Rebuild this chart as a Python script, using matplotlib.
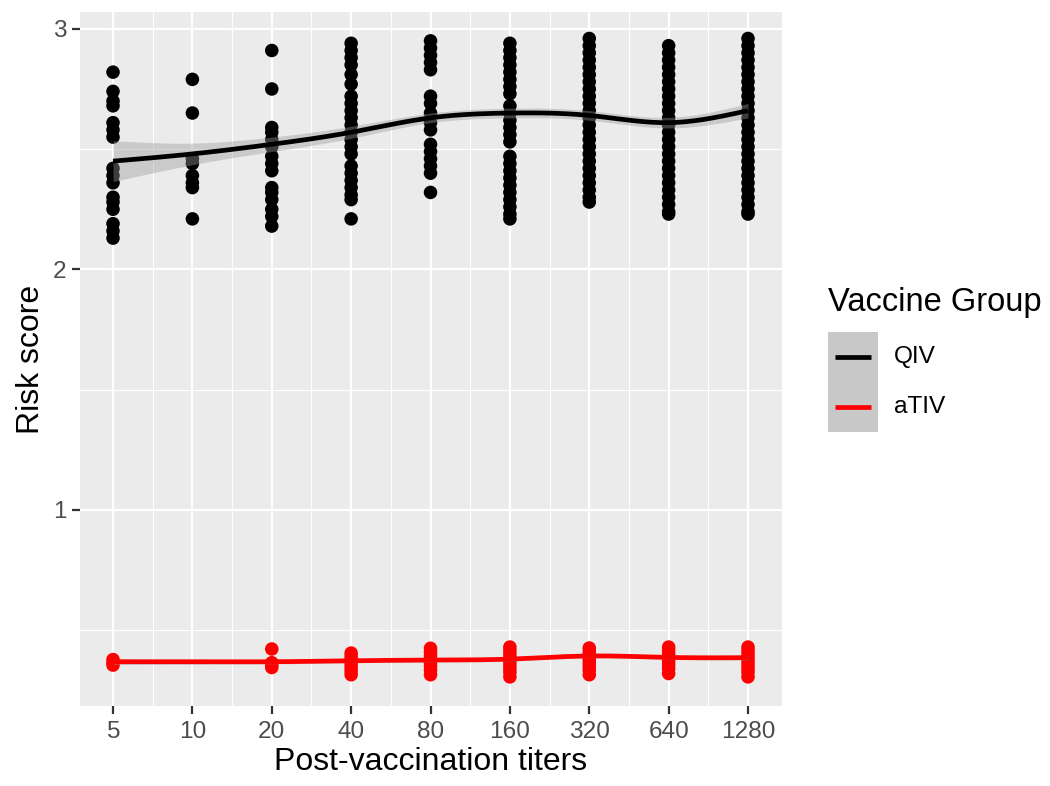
import numpy as np
import matplotlib
matplotlib.use("Agg")
import matplotlib.pyplot as plt
from matplotlib.lines import Line2D
from matplotlib.patches import Rectangle
from matplotlib.ticker import FixedLocator, NullFormatter

plt.rcParams['font.family'] = ['Liberation Sans', 'DejaVu Sans']

# ---------------- data ----------------
titers = [5, 10, 20, 40, 80, 160, 320, 640, 1280]
tick_labels = ["5", "10", "20", "40", "80", "160", "320", "640", "1280"]

qiv_points = {
    5: [2.82, 2.74, 2.70, 2.68, 2.61, 2.58, 2.55, 2.42, 2.39, 2.36, 2.30, 2.28, 2.25, 2.19, 2.16, 2.13],
    10: [2.79, 2.65, 2.46, 2.44, 2.39, 2.36, 2.34, 2.21],
    20: [2.91, 2.75, 2.59, 2.57, 2.54, 2.51, 2.47, 2.44, 2.41, 2.34, 2.32, 2.29, 2.25, 2.22, 2.18],
    40: [2.94, 2.91, 2.88, 2.85, 2.81, 2.77, 2.72, 2.69, 2.66, 2.63, 2.60, 2.57, 2.54, 2.51,
         2.48, 2.43, 2.40, 2.37, 2.34, 2.31, 2.29, 2.21],
    80: [2.95, 2.92, 2.89, 2.86, 2.83, 2.72, 2.69, 2.65, 2.61, 2.58, 2.52, 2.49, 2.46, 2.43, 2.40, 2.32],
    160: [2.94, 2.91, 2.88, 2.85, 2.82, 2.79, 2.76, 2.73, 2.68, 2.65, 2.62, 2.59, 2.56, 2.53,
          2.47, 2.44, 2.41, 2.38, 2.35, 2.32, 2.29, 2.26, 2.23, 2.21],
    320: [2.96, 2.93, 2.90, 2.87, 2.84, 2.81, 2.78, 2.75, 2.72, 2.69, 2.66, 2.63, 2.60, 2.57,
          2.54, 2.51, 2.48, 2.45, 2.42, 2.39, 2.36, 2.33, 2.30, 2.28],
    640: [2.93, 2.90, 2.87, 2.84, 2.81, 2.78, 2.75, 2.72, 2.69, 2.66, 2.63, 2.60, 2.57, 2.54,
          2.51, 2.48, 2.45, 2.42, 2.39, 2.36, 2.33, 2.30, 2.27, 2.24, 2.23],
    1280: [2.96, 2.93, 2.90, 2.87, 2.84, 2.81, 2.78, 2.75, 2.72, 2.69, 2.66, 2.63, 2.60, 2.57,
           2.54, 2.51, 2.48, 2.45, 2.42, 2.39, 2.36, 2.33, 2.30, 2.27, 2.24, 2.23],
}
ativ_points = {
    5: [0.378, 0.365, 0.355],
    20: [0.422, 0.365, 0.355, 0.345],
    40: [0.405, 0.39, 0.375, 0.36, 0.345, 0.33, 0.315],
    80: [0.425, 0.41, 0.395, 0.38, 0.365, 0.35, 0.335, 0.315],
    160: [0.43, 0.415, 0.40, 0.385, 0.37, 0.355, 0.34, 0.325, 0.306],
    320: [0.426, 0.41, 0.395, 0.38, 0.365, 0.35, 0.335, 0.315],
    640: [0.43, 0.415, 0.40, 0.385, 0.37, 0.355, 0.34, 0.32],
    1280: [0.43, 0.415, 0.40, 0.385, 0.37, 0.355, 0.34, 0.325, 0.306],
}

# fitted smooth (loess) values and confidence half-widths at each titer
qiv_smooth = [2.45, 2.48, 2.52, 2.57, 2.63, 2.65, 2.64, 2.61, 2.66]
qiv_se = [0.085, 0.045, 0.03, 0.025, 0.02, 0.02, 0.02, 0.022, 0.03]
ativ_smooth = [0.369, 0.369, 0.369, 0.373, 0.376, 0.380, 0.393, 0.387, 0.386]
ativ_se = [0.012, 0.010, 0.009, 0.008, 0.008, 0.008, 0.008, 0.008, 0.010]

groups = ["QIV", "aTIV"]
colors = {"QIV": "#000000", "aTIV": "#FF0000"}


def natural_spline(xk, yk, xs):
    xk = np.asarray(xk, float); yk = np.asarray(yk, float)
    n = len(xk); h = np.diff(xk)
    A = np.zeros((n, n)); r = np.zeros(n)
    A[0, 0] = A[-1, -1] = 1
    for i in range(1, n - 1):
        A[i, i - 1] = h[i - 1]; A[i, i] = 2 * (h[i - 1] + h[i]); A[i, i + 1] = h[i]
        r[i] = 3 * ((yk[i + 1] - yk[i]) / h[i] - (yk[i] - yk[i - 1]) / h[i - 1])
    c = np.linalg.solve(A, r)
    b = np.diff(yk) / h - h * (2 * c[:-1] + c[1:]) / 3
    d = np.diff(c) / (3 * h)
    idx = np.clip(np.searchsorted(xk, xs) - 1, 0, n - 2)
    dx = xs - xk[idx]
    return yk[idx] + b[idx] * dx + c[idx] * dx ** 2 + d[idx] * dx ** 3


# ---------------- figure ----------------
fig = plt.figure(figsize=(10.5, 7.86), dpi=100)
ax = fig.add_axes([80 / 1050, 1 - 706 / 786, (782 - 80) / 1050, (706 - 12) / 786])
ax.set_facecolor("#EBEBEB")
ax.set_xscale("log", base=2)

# points
for name, pts in [("QIV", qiv_points), ("aTIV", ativ_points)]:
    xs, ys = [], []
    for t, vals in pts.items():
        xs += [t] * len(vals)
        ys += vals
    ax.scatter(xs, ys, s=95, color=colors[name], edgecolors="none", zorder=3)

# smooths
lx = np.log2(titers)
xs_dense = np.linspace(lx[0], lx[-1], 300)
for name, sm, se in [("QIV", qiv_smooth, qiv_se), ("aTIV", ativ_smooth, ativ_se)]:
    yline = natural_spline(lx, sm, xs_dense)
    yse = natural_spline(lx, se, xs_dense)
    ax.fill_between(2 ** xs_dense, yline - yse, yline + yse, color="#999999", alpha=0.4,
                    linewidth=0, zorder=4)
    ax.plot(2 ** xs_dense, yline, color=colors[name], lw=3.4, zorder=5, solid_capstyle="butt")

# axes limits
ax.set_xlim(2 ** 1.906, 2 ** 10.75)
ax.set_ylim(0.185, 3.07)

ax.xaxis.set_major_locator(FixedLocator(titers))
ax.set_xticklabels(tick_labels)
minor_x = [np.sqrt(titers[i] * titers[i + 1]) for i in range(len(titers) - 1)]
ax.xaxis.set_minor_locator(FixedLocator(minor_x))
ax.xaxis.set_minor_formatter(NullFormatter())
ax.set_yticks([1, 2, 3])
ax.set_yticklabels(["1", "2", "3"])
ax.yaxis.set_minor_locator(FixedLocator([0.5, 1.5, 2.5]))

ax.grid(which="major", color="white", lw=1.6, zorder=0)
ax.grid(which="minor", color="white", lw=0.8, zorder=0)
ax.set_axisbelow(True)
for s in ax.spines.values():
    s.set_visible(False)
ax.tick_params(which="major", length=6, width=1.6, color="#333333", labelcolor="#4D4D4D",
               labelsize=17.6)
ax.tick_params(axis="x", which="major", pad=4.5)
ax.tick_params(axis="y", which="major", pad=3.5)
ax.tick_params(which="minor", length=0)

ax.set_xlabel("Post-vaccination titers", fontsize=23, color="black", labelpad=3)
ax.set_ylabel("Risk score", fontsize=23, color="black", labelpad=5)

# legend (drawn manually, ggplot style)
fig.text(828 / 1050, 1 - 303 / 786, "Vaccine Group", fontsize=23.5, ha="left", va="center")
fig.add_artist(Rectangle((828 / 1050, 1 - 432 / 786), 50 / 1050, 100 / 786,
                         transform=fig.transFigure, facecolor="#C8C8C8", edgecolor="none"))
for name, ypx in [("QIV", 357), ("aTIV", 407)]:
    fig.add_artist(Line2D([835 / 1050, 871 / 1050], [1 - ypx / 786, 1 - ypx / 786],
                          transform=fig.transFigure, color=colors[name], lw=3.4,
                          solid_capstyle="butt"))
    fig.text(894 / 1050, 1 - ypx / 786, name, fontsize=17.6, ha="left", va="center",
             color="black")

fig.savefig("out.png", dpi=100)
